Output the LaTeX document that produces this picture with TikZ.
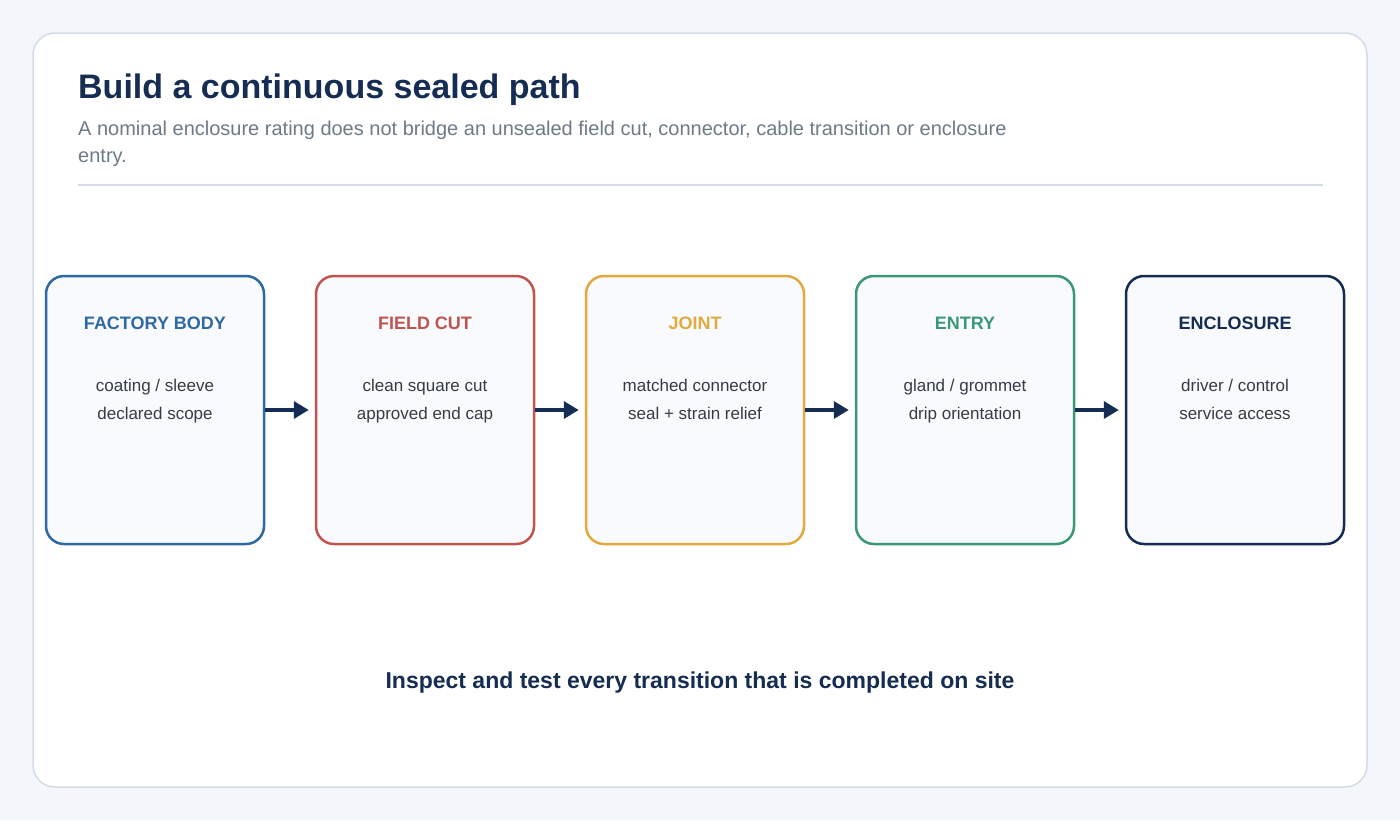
\documentclass[tikz,border=0pt]{standalone}
\usepackage{fontspec}
\setmainfont{Liberation Sans}
\usetikzlibrary{arrows.meta}
\definecolor{bgc}{HTML}{F3F6FB}
\definecolor{cardline}{HTML}{D3DCE8}
\definecolor{boxfill}{HTML}{F8FAFD}
\definecolor{cblue}{HTML}{2F69A4}
\definecolor{cred}{HTML}{C25450}
\definecolor{cyellow}{HTML}{E2AA3E}
\definecolor{cgreen}{HTML}{3B9877}
\definecolor{navy}{HTML}{152D53}
\definecolor{bodytext}{HTML}{353C48}
\definecolor{subgray}{HTML}{6E7A88}
\tikzset{
  stagebox/.style={draw=#1, line width=2.5pt, fill=boxfill, rounded corners=18pt,
    minimum width=218pt, minimum height=268pt, inner sep=0pt},
  stagetitle/.style={text=#1, font=\fontsize{18}{20}\selectfont\bfseries, anchor=base},
  stagebody/.style={text=bodytext, font=\fontsize{17}{28}\selectfont, anchor=base, align=center},
  flowarrow/.style={draw=navy, line width=3.5pt, -{Triangle[length=15pt,width=17pt]}, shorten >=6pt}
}
\begin{document}
\begin{tikzpicture}[x=1pt,y=-1pt]
\useasboundingbox (0,0) rectangle (1400,820);
\fill[bgc] (0,0) rectangle (1400,820);
\node[draw=cardline, line width=1.5pt, fill=white, rounded corners=22pt,
  minimum width=1334pt, minimum height=754pt, inner sep=0pt] (card) at (700,410) {};
\node[anchor=base west, inner sep=0pt, text=navy, font=\fontsize{34}{38}\selectfont\bfseries] (title) at (78,98) {Build a continuous sealed path};
\node[anchor=base west, inner sep=0pt, text=subgray, font=\fontsize{20}{27}\selectfont] (sub1) at (78,135) {A nominal enclosure rating does not bridge an unsealed field cut, connector, cable transition or enclosure};
\node[anchor=base west, inner sep=0pt, text=subgray, font=\fontsize{20}{27}\selectfont] (sub2) at (78,162) {entry.};
\coordinate (d1) at (78,185);
\coordinate (d2) at (1323,185);
\draw[cardline, line width=1.5pt] (d1) -- (d2);

\node[stagebox=cblue] (s1) at (155,410) {};
\node[stagebox=cred] (s2) at (425,410) {};
\node[stagebox=cyellow] (s3) at (695,410) {};
\node[stagebox=cgreen] (s4) at (965,410) {};
\node[stagebox=navy] (s5) at (1235,410) {};

\node[stagetitle=cblue] (t1) at (155,329.5) {FACTORY BODY};
\node[stagetitle=cred] (t2) at (425,329.5) {FIELD CUT};
\node[stagetitle=cyellow] (t3) at (695,329.5) {JOINT};
\node[stagetitle=cgreen] (t4) at (965,329.5) {ENTRY};
\node[stagetitle=navy] (t5) at (1235,329.5) {ENCLOSURE};

\node[stagebody] (b1a) at (155,391) {coating / sleeve};
\node[stagebody] (b1b) at (155,419) {declared scope};
\node[stagebody] (b2a) at (425,391) {clean square cut};
\node[stagebody] (b2b) at (425,419) {approved end cap};
\node[stagebody] (b3a) at (695,391) {matched connector};
\node[stagebody] (b3b) at (695,419) {seal + strain relief};
\node[stagebody] (b4a) at (965,391) {gland / grommet};
\node[stagebody] (b4b) at (965,419) {drip orientation};
\node[stagebody] (b5a) at (1235,391) {driver / control};
\node[stagebody] (b5b) at (1235,419) {service access};

\draw[flowarrow] (s1.east) -- (s2.west);
\draw[flowarrow] (s2.east) -- (s3.west);
\draw[flowarrow] (s3.east) -- (s4.west);
\draw[flowarrow] (s4.east) -- (s5.west);

\node[anchor=base, inner sep=0pt, text=navy, font=\fontsize{23}{26}\selectfont\bfseries] (foot) at (700,688) {Inspect and test every transition that is completed on site};
\end{tikzpicture}
\end{document}
